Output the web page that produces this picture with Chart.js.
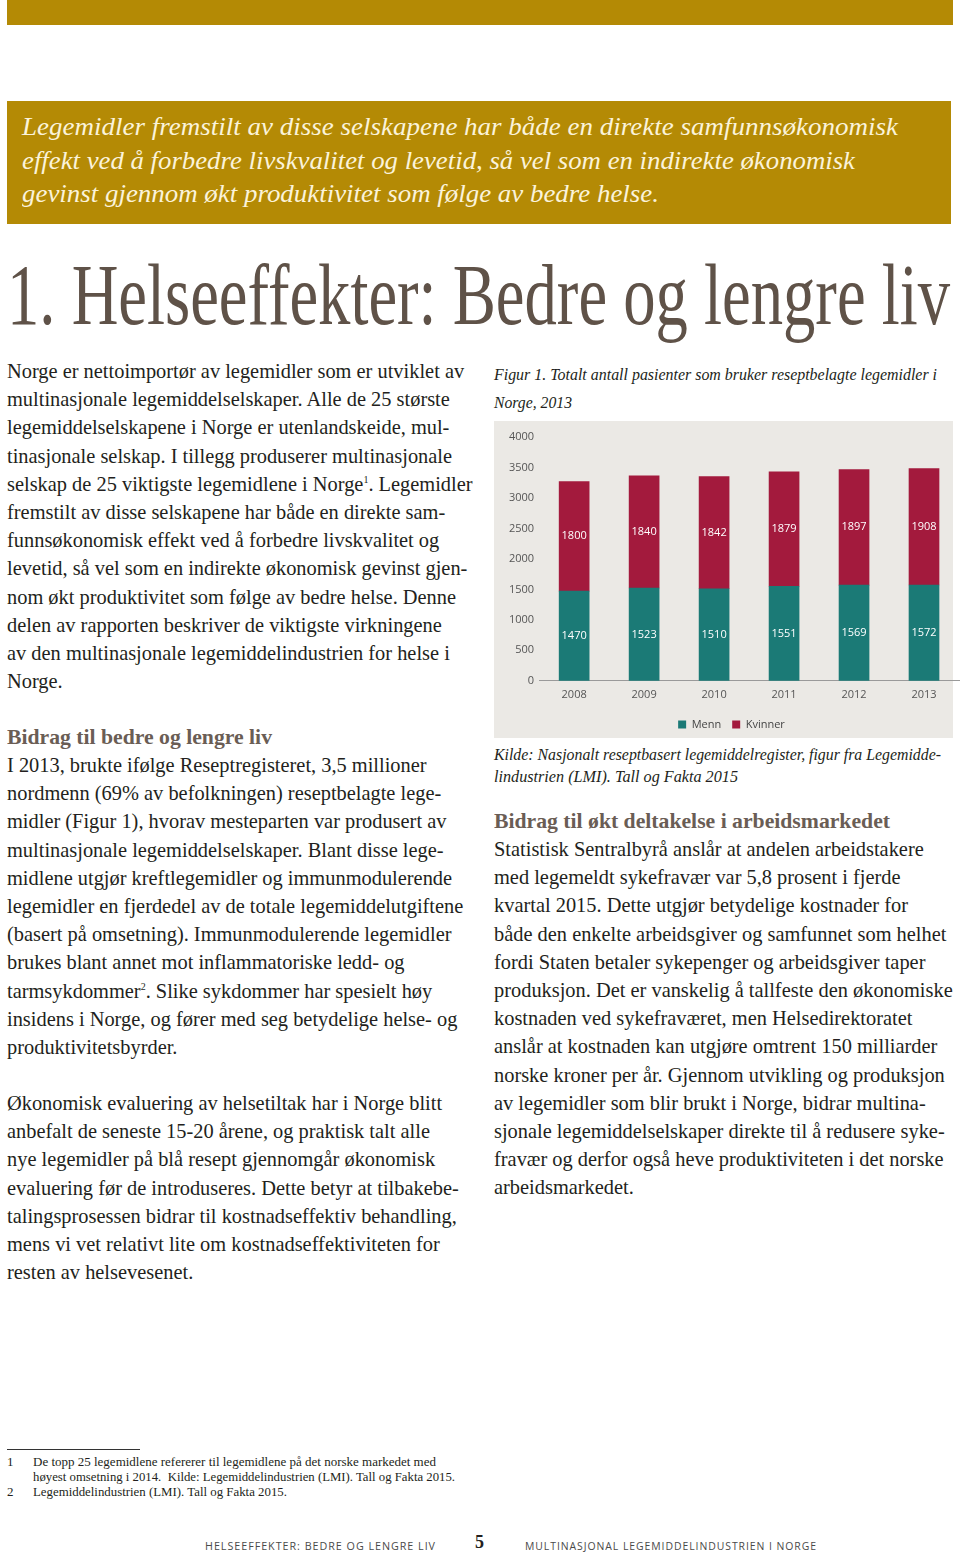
<!DOCTYPE html>
<html lang="no">
<head>
<meta charset="utf-8">
<title>Helseeffekter: Bedre og lengre liv</title>
<script src="https://cdn.jsdelivr.net/npm/chart.js@4.4.1/dist/chart.umd.min.js"></script>
<style>
  html, body { margin: 0; padding: 0; background: #fff; }
  body { width: 960px; height: 1554px; position: relative; overflow: hidden;
         font-family: "Liberation Serif", "DejaVu Serif", serif; color: #231f20; }
  .abs { position: absolute; }
  .fit { display: inline-block; white-space: nowrap; transform-origin: 0 50%; }
  .gold { background: #b48a05; }
  .banner { color: #fbf3da; font-style: italic; font-size: 26px; line-height: 33.5px; }
  .title { color: #5f5248; font-size: 86px; line-height: 90px; }
  .body { font-size: 20.4px; line-height: 28.2px; white-space: nowrap; }
  .body sup { font-size: 10px; line-height: 0; vertical-align: 0; position: relative; top: -0.8em; }
  .head { color: #6a5d55; font-weight: bold; font-size: 21px; line-height: 28px; }
  .cap { font-style: italic; font-size: 16.5px; }
  .note { font-size: 13px; line-height: 15px; }
  .foot { font-family: "Open Sans", sans-serif; font-size: 11px; color: #4a4a4a; letter-spacing: 1px; }
  #panel { left: 494px; top: 421px; width: 459px; height: 317px; background: #ebe9e5; }
  #wrap { left: 494px; top: 421px; width: 466px; height: 319px; }
</style>
</head>
<body>
<div class="abs gold" style="left:7px;top:0;width:946px;height:25px"></div>
<div class="abs gold" style="left:7px;top:101px;width:944px;height:123px"></div>
<div class="abs banner" style="left:22px;top:110px">
  <div><span class="fit" data-w="876">Legemidler fremstilt av disse selskapene har både en direkte samfunnsøkonomisk</span></div>
  <div><span class="fit" data-w="833">effekt ved å forbedre livskvalitet og levetid, så vel som en indirekte økonomisk</span></div>
  <div><span class="fit" data-w="637">gevinst gjennom økt produktivitet som følge av bedre helse.</span></div>
</div>

<div class="abs title" style="left:7px;top:250px"><span class="fit" data-w="943">1. Helseeffekter: Bedre og lengre liv</span></div>

<div class="abs body" style="left:7px;top:357px">
Norge er nettoimportør av legemidler som er utviklet av<br>
multinasjonale legemiddelselskaper. Alle de 25 største<br>
legemiddelselskapene i Norge er utenlandskeide, mul-<br>
tinasjonale selskap. I tillegg produserer multinasjonale<br>
selskap de 25 viktigste legemidlene i Norge<sup>1</sup>. Legemidler<br>
fremstilt av disse selskapene har både en direkte sam-<br>
funnsøkonomisk effekt ved å forbedre livskvalitet og<br>
levetid, så vel som en indirekte økonomisk gevinst gjen-<br>
nom økt produktivitet som følge av bedre helse. Denne<br>
delen av rapporten beskriver de viktigste virkningene<br>
av den multinasjonale legemiddelindustrien for helse i<br>
Norge.
</div>

<div class="abs head" style="left:7px;top:723px"><span class="fit" data-w="265">Bidrag til bedre og lengre liv</span></div>
<div class="abs body" style="left:7px;top:751px">
I 2013, brukte ifølge Reseptregisteret, 3,5 millioner<br>
nordmenn (69% av befolkningen) reseptbelagte lege-<br>
midler (Figur 1), hvorav mesteparten var produsert av<br>
multinasjonale legemiddelselskaper. Blant disse lege-<br>
midlene utgjør kreftlegemidler og immunmodulerende<br>
legemidler en fjerdedel av de totale legemiddelutgiftene<br>
(basert på omsetning). Immunmodulerende legemidler<br>
brukes blant annet mot inflammatoriske ledd- og<br>
tarmsykdommer<sup>2</sup>. Slike sykdommer har spesielt høy<br>
insidens i Norge, og fører med seg betydelige helse- og<br>
produktivitetsbyrder.
</div>
<div class="abs body" style="left:7px;top:1089px">
Økonomisk evaluering av helsetiltak har i Norge blitt<br>
anbefalt de seneste 15-20 årene, og praktisk talt alle<br>
nye legemidler på blå resept gjennomgår økonomisk<br>
evaluering før de introduseres. Dette betyr at tilbakebe-<br>
talingsprosessen bidrar til kostnadseffektiv behandling,<br>
mens vi vet relativt lite om kostnadseffektiviteten for<br>
resten av helsevesenet.
</div>

<div class="abs cap" style="left:494px;top:361px;line-height:28px">
  <div><span class="fit" data-w="443">Figur 1. Totalt antall pasienter som bruker reseptbelagte legemidler i</span></div>
  <div><span class="fit" data-w="78">Norge, 2013</span></div>
</div>

<div class="abs" id="panel"></div>
<div class="abs" id="wrap"><canvas id="chart"></canvas></div>

<div class="abs cap" style="left:494px;top:744px;line-height:22px">
  <div><span class="fit" data-w="447">Kilde: Nasjonalt reseptbasert legemiddelregister, figur fra Legemidde-</span></div>
  <div><span class="fit" data-w="244">lindustrien (LMI). Tall og Fakta 2015</span></div>
</div>

<div class="abs head" style="left:494px;top:807px"><span class="fit" data-w="396">Bidrag til økt deltakelse i arbeidsmarkedet</span></div>
<div class="abs body" style="left:494px;top:835px">
Statistisk Sentralbyrå anslår at andelen arbeidstakere<br>
med legemeldt sykefravær var 5,8 prosent i fjerde<br>
kvartal 2015. Dette utgjør betydelige kostnader for<br>
både den enkelte arbeidsgiver og samfunnet som helhet<br>
fordi Staten betaler sykepenger og arbeidsgiver taper<br>
produksjon. Det er vanskelig å tallfeste den økonomiske<br>
kostnaden ved sykefraværet, men Helsedirektoratet<br>
anslår at kostnaden kan utgjøre omtrent 150 milliarder<br>
norske kroner per år. Gjennom utvikling og produksjon<br>
av legemidler som blir brukt i Norge, bidrar multina-<br>
sjonale legemiddelselskaper direkte til å redusere syke-<br>
fravær og derfor også heve produktiviteten i det norske<br>
arbeidsmarkedet.
</div>

<div class="abs" style="left:7px;top:1449px;width:133px;height:1px;background:#333"></div>
<div class="abs note" style="left:7px;top:1454px">1</div>
<div class="abs note" style="left:33px;top:1454px"><span class="fit" data-w="403">De topp 25 legemidlene refererer til legemidlene på det norske markedet med</span></div>
<div class="abs note" style="left:33px;top:1469px"><span class="fit" data-w="422">høyest omsetning i 2014.&nbsp; Kilde: Legemiddelindustrien (LMI). Tall og Fakta 2015.</span></div>
<div class="abs note" style="left:7px;top:1484px">2</div>
<div class="abs note" style="left:33px;top:1484px"><span class="fit" data-w="254">Legemiddelindustrien (LMI). Tall og Fakta 2015.</span></div>

<div class="abs foot" style="left:205px;top:1538px"><span class="fit" data-w="231">HELSEEFFEKTER: BEDRE OG LENGRE LIV</span></div>
<div class="abs" style="left:475px;top:1532px;font-weight:bold;font-size:18px">5</div>
<div class="abs foot" style="left:525px;top:1538px"><span class="fit" data-w="292">MULTINASJONAL LEGEMIDDELINDUSTRIEN I NORGE</span></div>

<script>
// figure data
const years = ['2008', '2009', '2010', '2011', '2012', '2013'];
const menn = [1470, 1523, 1510, 1551, 1569, 1572];
const kvinner = [1800, 1840, 1842, 1879, 1897, 1908];
const yMax = 4000;
const yStep = 500;

// squeeze fixed-width text lines
document.querySelectorAll('.fit').forEach(el => {
    const target = parseFloat(el.dataset.w);
    const w = el.getBoundingClientRect().width;
    if (w > 0) el.style.transform = 'scaleX(' + (target / w) + ')';
});

const sans = '"Open Sans", sans-serif';

// value labels in the middle of each segment
const segmentLabels = {
    id: 'segmentLabels',
    afterDatasetsDraw(chart) {
        const ctx = chart.ctx;
        ctx.save();
        ctx.fillStyle = '#ffffff';
        ctx.font = '11px ' + sans;
        ctx.textAlign = 'center';
        ctx.textBaseline = 'middle';
        chart.data.datasets.forEach((ds, i) => {
            chart.getDatasetMeta(i).data.forEach((bar, j) => {
                ctx.fillText(ds.data[j], bar.x, (bar.y + bar.base) / 2);
            });
        });
        ctx.restore();
    }
};

new Chart(document.getElementById('chart'), {
    type: 'bar',
    data: {
        labels: years,
        datasets: [
            { label: 'Menn', data: menn, backgroundColor: '#1b7a76' },
            { label: 'Kvinner', data: kvinner, backgroundColor: '#a31a3d' }
        ]
    },
    options: {
        responsive: true,
        maintainAspectRatio: false,
        animation: false,
        layout: { padding: { left: 10, right: 1, top: 16, bottom: 0 } },
        datasets: { bar: { barThickness: 30 } },
        plugins: {
            legend: {
                position: 'bottom',
                labels: {
                    boxWidth: 8,
                    boxHeight: 8,
                    padding: 11,
                    color: '#444',
                    font: { family: sans, size: 11 }
                }
            },
            tooltip: { enabled: false }
        },
        scales: {
            x: {
                stacked: true,
                grid: { display: false, drawTicks: false },
                border: { display: true, color: '#9a9a9a', width: 1 },
                ticks: { color: '#555', padding: 7, font: { family: sans, size: 11 } }
            },
            y: {
                stacked: true,
                min: 0,
                max: yMax,
                grid: { display: false, drawTicks: false },
                border: { display: false },
                ticks: {
                    stepSize: yStep,
                    color: '#555',
                    padding: 5,
                    font: { family: sans, size: 11 },
                    callback: v => String(v)
                }
            }
        }
    },
    plugins: [segmentLabels]
});
</script>
</body>
</html>
